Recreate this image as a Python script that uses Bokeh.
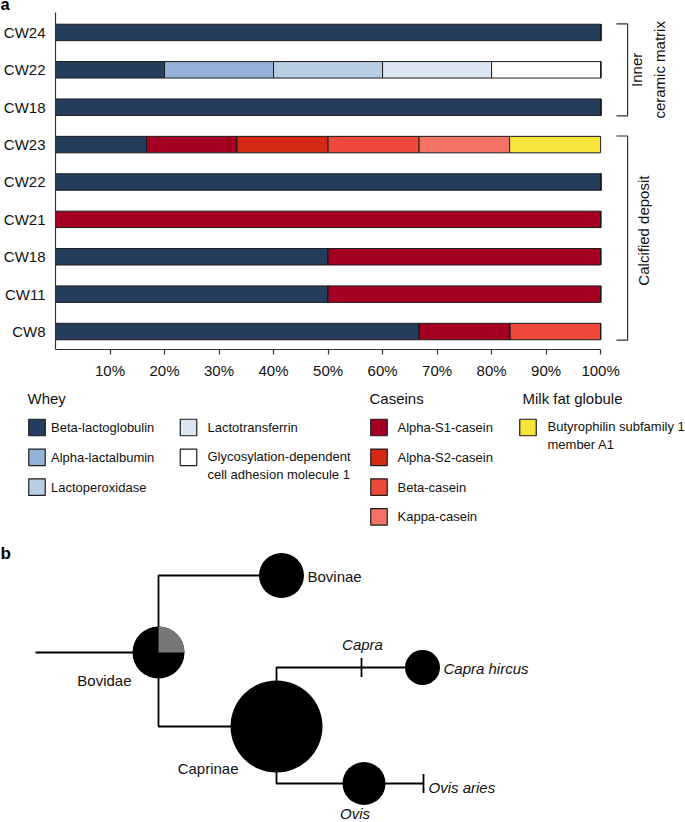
import math
from bokeh.plotting import figure
from bokeh.models import ColumnDataSource, Range1d, FixedTicker, PrintfTickFormatter
from bokeh.layouts import column
from bokeh.embed import file_html
from bokeh.resources import INLINE
from bokeh.core.properties import value

FONT = "Liberation Sans"

# ---------------- data: panel a ----------------
samples = ["CW24", "CW22", "CW18", "CW23", "CW22", "CW21", "CW18", "CW11", "CW8"]
sample_group = ["Inner\nceramic matrix"] * 3 + ["Calcified deposit"] * 6

proteins = ["Beta-lactoglobulin", "Alpha-lactalbumin", "Lactoperoxidase", "Lactotransferrin",
            "Glycosylation-dependent\ncell adhesion molecule 1",
            "Alpha-S1-casein", "Alpha-S2-casein", "Beta-casein", "Kappa-casein",
            "Butyrophilin subfamily 1\nmember A1"]
protein_class = ["Whey"] * 5 + ["Caseins"] * 4 + ["Milk fat globule"]
protein_colors = ["#253e5d", "#94b2d7", "#b9cde5", "#dce6f2", "#ffffff",
                  "#a50021", "#d42914", "#ee493a", "#f27266", "#f8e53c"]

# percentage of identified proteins per sample (same order as samples)
beta_lactoglobulin = [100, 20, 100, 16.7, 100, 0, 50, 50, 66.7]
alpha_lactalbumin = [0, 20, 0, 0, 0, 0, 0, 0, 0]
lactoperoxidase = [0, 20, 0, 0, 0, 0, 0, 0, 0]
lactotransferrin = [0, 20, 0, 0, 0, 0, 0, 0, 0]
glycam1 = [0, 20, 0, 0, 0, 0, 0, 0, 0]
alpha_s1_casein = [0, 0, 0, 16.6, 0, 100, 50, 50, 16.7]
alpha_s2_casein = [0, 0, 0, 16.7, 0, 0, 0, 0, 0]
beta_casein = [0, 0, 0, 16.7, 0, 0, 0, 0, 16.6]
kappa_casein = [0, 0, 0, 16.6, 0, 0, 0, 0, 0]
butyrophilin = [0, 0, 0, 16.7, 0, 0, 0, 0, 0]

x_ticks = [10, 20, 30, 40, 50, 60, 70, 80, 90, 100]

# ---------------- data: panel b (tree) ----------------
tree_nodes = ["Bovidae", "Bovinae", "Caprinae", "Capra", "Capra hircus", "Ovis", "Ovis aries"]
tree_parent = [None, "Bovidae", "Bovidae", "Caprinae", "Capra", "Caprinae", "Ovis"]
tree_italic = [False, False, False, True, True, True, True]
node_x = [158, 281, 276, 361, 422, 363.5, 423]
node_y = [652, 575, 726, 667, 667, 783, 783]
node_radius = [26, 22.5, 46, 0, 17.5, 21.5, 0]   # 0 -> drawn as a tick
bovidae_grey_fraction = 0.25
root_x = 35

# ---------------- styles ----------------
AX = "#333333"
TXT = "#111111"
F15 = "15px"
F13 = "13px"
W = 685
H0 = 12
H1 = 381 - H0
H2 = 822 - H0 - H1


def no_align(p):
    try:
        p.frame_align = False
    except Exception:
        pass


def bare(p):
    p.outline_line_color = None
    p.grid.visible = False
    no_align(p)


# ================= panel label a =================
pa = figure(width=W, height=H0, x_range=Range1d(0, 685), y_range=Range1d(H0, 0),
            output_backend="svg", toolbar_location=None, x_axis_type=None, y_axis_type=None,
            min_border=0)
bare(pa)
pa.text(x=[0], y=[3.6], text=["a"], text_align="left", text_baseline="middle",
        text_font=value(FONT), text_font_style="bold", text_font_size="16.5px",
        text_color="#000000")

# ================= panel a =================
n = len(samples)
ypos = [n - 1 - i for i in range(n)]

series = [beta_lactoglobulin, alpha_lactalbumin, lactoperoxidase, lactotransferrin, glycam1,
          alpha_s1_casein, alpha_s2_casein, beta_casein, kappa_casein, butyrophilin]
keys = [f"p{i}" for i in range(len(proteins))]
data = {"y": ypos}
for k, s in zip(keys, series):
    data[k] = s
src = ColumnDataSource(data)

p1 = figure(width=W, height=H1, x_range=Range1d(0, 115.57), y_range=Range1d(-0.48, 8.533),
            output_backend="svg", toolbar_location=None,
            min_border_left=54, min_border_right=0, min_border_top=0, min_border_bottom=31)
p1.outline_line_color = None
p1.xgrid.visible = False
p1.ygrid.visible = False
no_align(p1)

p1.hbar_stack(keys, y="y", height=0.44, fill_color=protein_colors,
              line_color="#1c1c1c", line_width=1, source=src)

xa = p1.xaxis[0]
xa.ticker = FixedTicker(ticks=x_ticks)
xa.formatter = PrintfTickFormatter(format="%d%%")
xa.bounds = (0, 100)
xa.major_tick_out = 5
xa.major_tick_in = 0
xa.minor_tick_out = 0
xa.minor_tick_in = 0
xa.major_label_standoff = 7
xa.axis_line_color = AX
xa.axis_line_width = 1.2
xa.major_tick_line_color = AX
xa.major_tick_line_width = 1.2
xa.major_label_text_font = FONT
xa.major_label_text_font_size = F15
xa.major_label_text_color = TXT

ya = p1.yaxis[0]
ya.ticker = FixedTicker(ticks=ypos)
ya.major_label_overrides = {y: s for y, s in zip(ypos, samples)}
ya.major_tick_out = 0
ya.major_tick_in = 0
ya.minor_tick_out = 0
ya.minor_tick_in = 0
ya.major_label_standoff = 10
ya.axis_line_color = AX
ya.axis_line_width = 1.2
ya.major_label_text_font = FONT
ya.major_label_text_font_size = F15
ya.major_label_text_color = TXT

# group brackets
bx_tick, bx_line, pad = 102.9, 104.95, 0.23
groups = []
for g in sample_group:
    if g not in groups:
        groups.append(g)
bxs, bys = [], []
for g in groups:
    ys = [y for y, sg in zip(ypos, sample_group) if sg == g]
    top, bot = max(ys) + pad, min(ys) - pad
    bxs.append([bx_tick, bx_line, bx_line, bx_tick])
    bys.append([top, top, bot, bot])
p1.multi_line(bxs, bys, line_color=AX, line_width=1.2)
p1.text(x=[108.7, 107.9], y=[7.0, 2.7], text=groups, angle=math.pi / 2,
        text_align="center", text_baseline="middle", text_font=value(FONT),
        text_font_size=F15, text_color=TXT, text_line_height=1.4)

# ================= legend + panel b =================
p2 = figure(width=W, height=H2, x_range=Range1d(0, 685), y_range=Range1d(822, 381),
            output_backend="svg", toolbar_location=None, x_axis_type=None, y_axis_type=None,
            min_border=0)
bare(p2)

# legend layout
class_title_x = {"Whey": 27, "Caseins": 369, "Milk fat globule": 522}
class_cols = {"Whey": [(36.5, 50.5, 3), (188, 207, 2)], "Caseins": [(378.5, 397, 4)],
              "Milk fat globule": [(527.5, 547, 1)]}
title_y, row0_y, row_dy, sw = 398, 427, 29.8, 16.5
classes = ["Whey", "Caseins", "Milk fat globule"]
p2.text(x=[class_title_x[c] for c in classes], y=[title_y] * 3, text=classes,
        text_align="left", text_baseline="middle", text_font=value(FONT),
        text_font_size=F15, text_color=TXT)
sx, sy, sc, tx, ty, tt = [], [], [], [], [], []
for c in classes:
    items = [i for i, pc in enumerate(protein_class) if pc == c]
    k = 0
    for (cx, ctx, nrows) in class_cols[c]:
        for r in range(nrows):
            i = items[k]
            k += 1
            yy = row0_y + r * row_dy
            sx.append(cx); sy.append(yy); sc.append(protein_colors[i])
            nl = proteins[i].count("\n")
            tx.append(ctx); ty.append(yy + nl * 8.0); tt.append(proteins[i])
p2.rect(sx, sy, width=sw, height=sw, fill_color=sc, line_color="#1c1c1c", line_width=1.2)
p2.text(x=tx, y=ty, text=tt, text_align="left", text_baseline="middle",
        text_font=value(FONT), text_font_size=F13, text_color=TXT, text_line_height=1.23)

p2.text(x=[0], y=[553], text=["b"], text_align="left", text_baseline="middle",
        text_font=value(FONT), text_font_style="bold", text_font_size="17px",
        text_color="#000000")

# tree edges (elbow connectors)
idx = {nm: i for i, nm in enumerate(tree_nodes)}
exs, eys = [[root_x, node_x[0]]], [[node_y[0], node_y[0]]]
for i, par in enumerate(tree_parent):
    if par is None:
        continue
    j = idx[par]
    exs.append([node_x[j], node_x[j], node_x[i]])
    eys.append([node_y[j], node_y[i], node_y[i]])
p2.multi_line(exs, eys, line_color="#000000", line_width=1.8)

cx_ = [x for x, r in zip(node_x, node_radius) if r > 0]
cy_ = [y for y, r in zip(node_y, node_radius) if r > 0]
cr_ = [r for r in node_radius if r > 0]
p2.circle(cx_, cy_, radius=cr_, fill_color="#000000", line_color=None)
p2.wedge(x=[node_x[0]], y=[node_y[0]], radius=node_radius[0], start_angle=0,
         end_angle=2 * math.pi * bovidae_grey_fraction, fill_color="#777777", line_color=None)

tx_ = [x for x, r in zip(node_x, node_radius) if r == 0]
ty_ = [y for y, r in zip(node_y, node_radius) if r == 0]
p2.segment(x0=tx_, y0=[y - 9.5 for y in ty_], x1=tx_, y1=[y + 9.5 for y in ty_],
           line_color="#000000", line_width=1.8)

# node labels: (dx, dy, align)
label_place = {"Bovidae": (-27, 28, "right"), "Bovinae": (26, 1, "left"),
               "Caprinae": (-38, 42, "right"), "Capra": (1, -23, "center"),
               "Capra hircus": (21, 1, "left"), "Ovis": (-9, 30, "center"),
               "Ovis aries": (5, 4, "left")}
for i, nm in enumerate(tree_nodes):
    dx, dy, al = label_place[nm]
    p2.text(x=[node_x[i] + dx], y=[node_y[i] + dy], text=[nm], text_align=al,
            text_baseline="middle", text_font=value(FONT), text_font_size=F15,
            text_font_style="italic" if tree_italic[i] else "normal", text_color=TXT)

layout = column(pa, p1, p2)
open("out.html", "w").write(file_html(layout, INLINE))
